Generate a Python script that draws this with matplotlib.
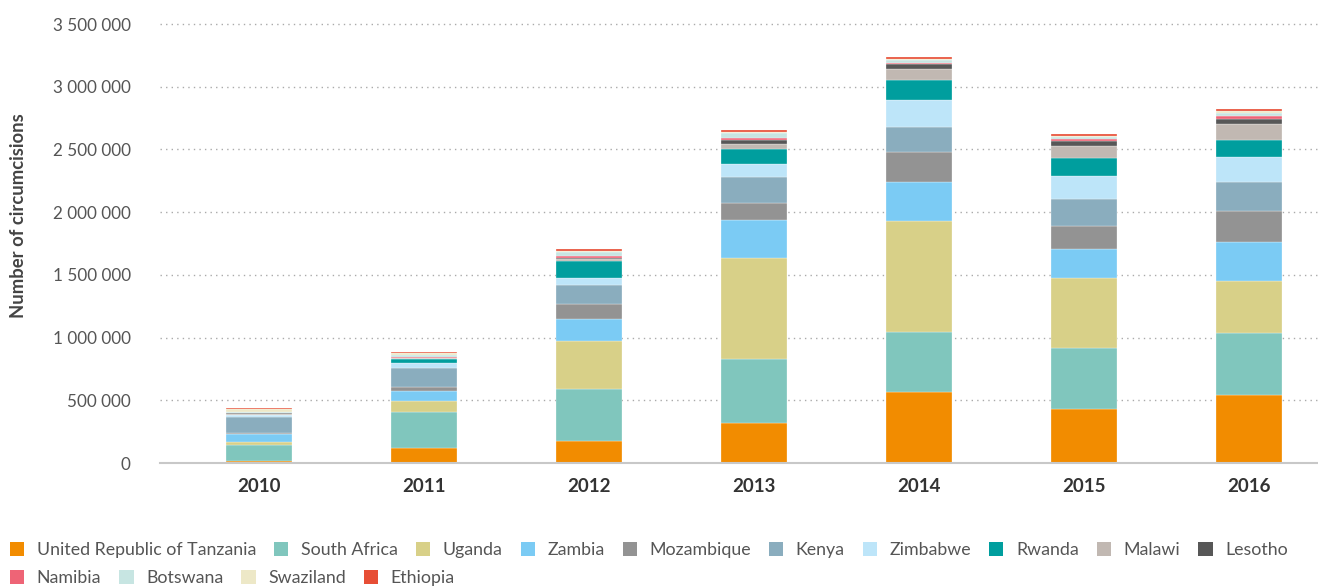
import numpy as np
import matplotlib
matplotlib.use("Agg")
from matplotlib import pyplot as plt
from matplotlib.ticker import FuncFormatter
from matplotlib.patches import Patch

# circumcisions per year
years = ["2010", "2011", "2012", "2013", "2014", "2015", "2016"]

tanzania = [16000, 117000, 178000, 317000, 566000, 431000, 542000]
south_africa = [127000, 292000, 415000, 512000, 479000, 486000, 492000]
uganda = [27000, 85000, 377000, 809000, 882000, 558000, 415000]
zambia = [64000, 80000, 178000, 303000, 314000, 229000, 313000]
mozambique = [3000, 34000, 120000, 135000, 239000, 186000, 247000]
kenya = [133000, 152000, 154000, 202000, 199000, 213000, 232000]
zimbabwe = [12000, 40000, 51000, 102000, 216000, 189000, 199000]
rwanda = [2000, 27000, 138000, 121000, 162000, 138000, 139000]
malawi = [8000, 8000, 19000, 40000, 88000, 101000, 127000]
lesotho = [3000, 3000, 8000, 38000, 40000, 37000, 37000]
namibia = [3000, 8000, 13000, 10000, 5000, 13000, 24000]
botswana = [12000, 15000, 35000, 42000, 21000, 16000, 24000]
swaziland = [20000, 16000, 8000, 11000, 11000, 13000, 16000]
ethiopia = [8000, 10000, 10000, 13000, 15000, 11000, 13000]

countries = ["United Republic of Tanzania", "South Africa", "Uganda", "Zambia",
             "Mozambique", "Kenya", "Zimbabwe", "Rwanda", "Malawi", "Lesotho",
             "Namibia", "Botswana", "Swaziland", "Ethiopia"]
series = [tanzania, south_africa, uganda, zambia, mozambique, kenya, zimbabwe,
          rwanda, malawi, lesotho, namibia, botswana, swaziland, ethiopia]
colors = ["#F28C00", "#80C6BD", "#D8D088", "#7BCBF4", "#939393", "#8AADBE",
          "#BDE5F9", "#009E9E", "#C1B8B2", "#575757", "#EE6476", "#C7E5E2",
          "#EDE8C7", "#E74E35"]

plt.rcParams['font.family'] = ['Lato', 'DejaVu Sans']

W, H = 1318, 586
fig = plt.figure(figsize=(W / 100, H / 100), dpi=100)
# axes placed in pixels: left 160, zero line at 463, top at 20
ax = fig.add_axes([160 / W, 1 - 463 / H, 1 - 160 / W, (463 - 20) / H])

x = np.arange(len(years))
bottom = np.zeros(len(years))
for name, vals, c in zip(countries, series, colors):
    ax.bar(x, vals, width=0.4, bottom=bottom, color=c, label=name,
           edgecolor="white", linewidth=0.2, zorder=3)
    bottom += np.array(vals)

ax.set_xlim(-0.6, 6.418)
ax.set_ylim(0, 3500000 + 4 * 7974)
ax.set_yticks(np.arange(0, 3500001, 500000))
ax.yaxis.set_major_formatter(FuncFormatter(lambda v, p: f"{int(v):,}".replace(",", " ")))
ax.set_xticks(x)
ax.set_xticklabels(years, fontweight="bold", fontsize=13.5, color="#333333")

ax.grid(axis="y", linestyle=(0, (1, 3)), color="#AAAAAA", linewidth=1, zorder=0)
for s in ["top", "right", "left"]:
    ax.spines[s].set_visible(False)
ax.spines["bottom"].set_color("#C8C8C8")
ax.spines["bottom"].set_linewidth(1.5)
ax.spines["bottom"].set_zorder(4)
ax.tick_params(axis="y", length=0, pad=21, labelsize=12.3, labelcolor="#555555")
ax.tick_params(axis="x", length=0, pad=11)

fig.text(19 / W, 1 - 216 / H, "Number of circumcisions", rotation=90,
         ha="center", va="center", fontsize=13.3, fontweight="bold", color="#444444")

# legend in two rows, each packed from the left
handles = [Patch(facecolor=c, label=n) for n, c in zip(countries, colors)]
leg_kw = dict(frameon=False, fontsize=12.8, handlelength=0.8, handleheight=0.8,
              handletextpad=0.7, columnspacing=1.02, borderaxespad=0, borderpad=0,
              labelcolor="#555555")
leg1 = fig.legend(handles=handles[:10], ncol=10, loc="center left",
                  bbox_to_anchor=(10 / W, 1 - 550 / H), **leg_kw)
leg2 = fig.legend(handles=handles[10:], ncol=4, loc="center left",
                  bbox_to_anchor=(10 / W, 1 - 578 / H), **leg_kw)

fig.savefig("out.png", dpi=100)
